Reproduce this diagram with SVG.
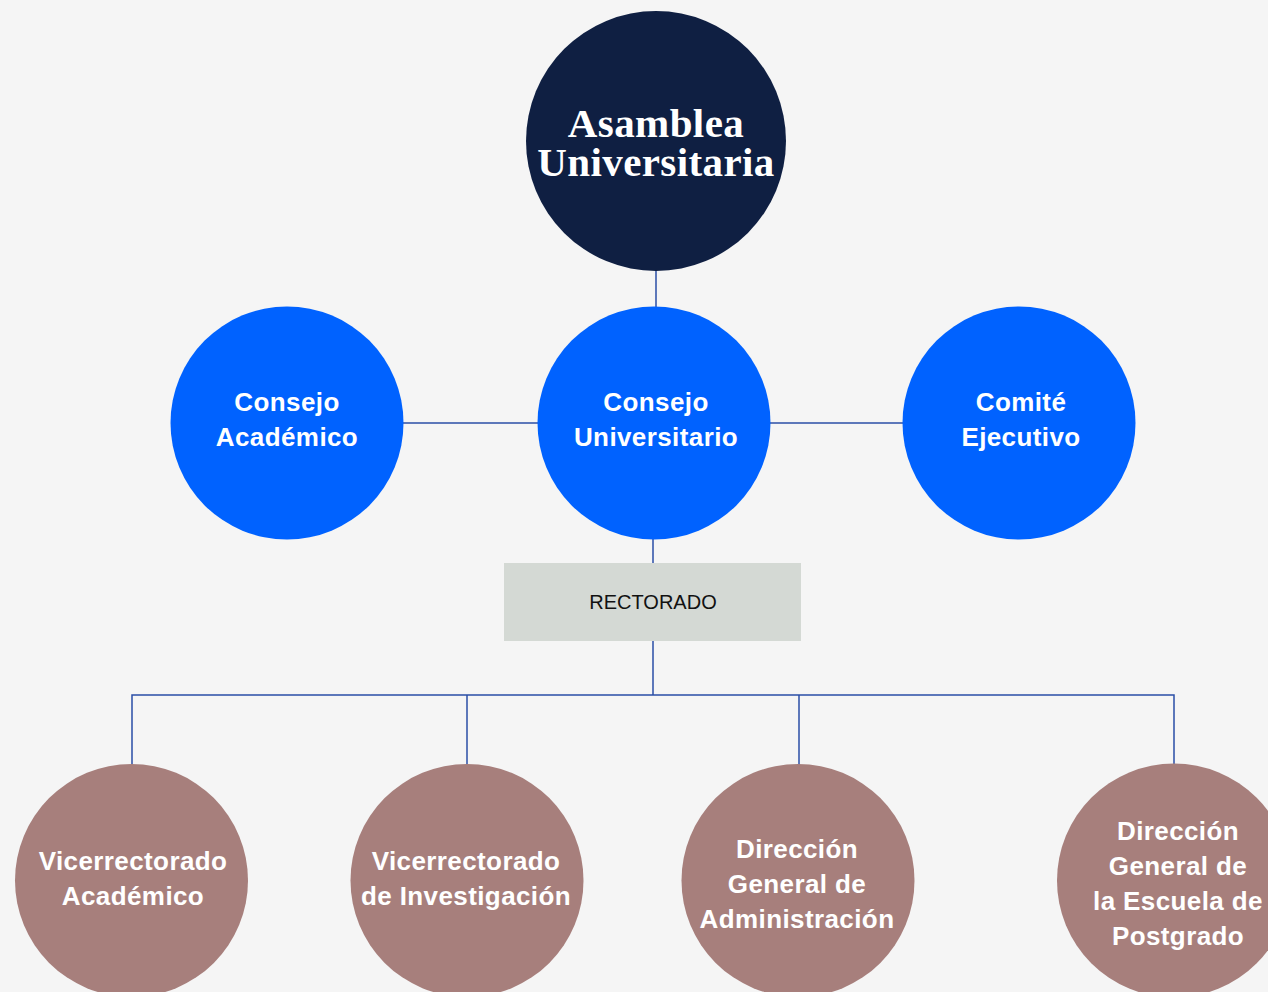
<svg xmlns="http://www.w3.org/2000/svg" width="1268" height="992" viewBox="0 0 1268 992">
<style>
.bg{fill:#f5f5f5}
.ln{stroke:#2a4ea6;stroke-width:1.5;fill:none}
.top{fill:#0f1f42}
.blue{fill:#0062ff}
.mauve{fill:#a77f7c}
.rect{fill:#d4d9d4}
.ser{font-family:"Liberation Serif",serif;font-weight:bold;font-size:41px;letter-spacing:0.4px;fill:#fff;text-anchor:middle}
.lbl{font-family:"Liberation Sans",Arial,sans-serif;font-weight:bold;font-size:26px;letter-spacing:0.4px;fill:#fff;text-anchor:middle}
.reg{font-family:"Liberation Sans",Arial,sans-serif;font-size:20px;fill:#111;text-anchor:middle}
</style>
<rect class="bg" x="0" y="0" width="1268" height="992"/>
<g id="connectors">
<line class="ln" x1="656" y1="268" x2="656" y2="310"/>
<line class="ln" x1="400" y1="423" x2="541" y2="423"/>
<line class="ln" x1="767" y1="423" x2="906" y2="423"/>
<line class="ln" x1="653" y1="536" x2="653" y2="563"/>
<line class="ln" x1="653" y1="641" x2="653" y2="695"/>
<polyline class="ln" points="132,767 132,695 1174,695 1174,767"/>
<line class="ln" x1="467" y1="695" x2="467" y2="767"/>
<line class="ln" x1="799" y1="695" x2="799" y2="767"/>
</g>
<g id="asamblea">
<circle class="top" cx="656" cy="141" r="130"/>
<text class="ser" x="656" y="137">Asamblea</text>
<text class="ser" x="656" y="176">Universitaria</text>
</g>
<g id="consejo-academico">
<circle class="blue" cx="287" cy="423" r="116.5"/>
<text class="lbl" x="287" y="411">Consejo</text>
<text class="lbl" x="287" y="446">Académico</text>
</g>
<g id="consejo-universitario">
<circle class="blue" cx="654" cy="423" r="116.5"/>
<text class="lbl" x="656" y="411">Consejo</text>
<text class="lbl" x="656" y="446">Universitario</text>
</g>
<g id="comite-ejecutivo">
<circle class="blue" cx="1019" cy="423" r="116.5"/>
<text class="lbl" x="1021" y="411">Comité</text>
<text class="lbl" x="1021" y="446">Ejecutivo</text>
</g>
<g id="rectorado">
<rect class="rect" x="504" y="563" width="297" height="78"/>
<text class="reg" x="653" y="609">RECTORADO</text>
</g>
<g id="vice-academico">
<circle class="mauve" cx="131.5" cy="880.5" r="116.5"/>
<text class="lbl" x="133" y="870">Vicerrectorado</text>
<text class="lbl" x="133" y="905">Académico</text>
</g>
<g id="vice-investigacion">
<circle class="mauve" cx="467" cy="880.5" r="116.5"/>
<text class="lbl" x="466" y="870">Vicerrectorado</text>
<text class="lbl" x="466" y="905">de Investigación</text>
</g>
<g id="dir-administracion">
<circle class="mauve" cx="798" cy="880.5" r="116.5"/>
<text class="lbl" x="797" y="858">Dirección</text>
<text class="lbl" x="797" y="893">General de</text>
<text class="lbl" x="797" y="928">Administración</text>
</g>
<g id="dir-postgrado">
<circle class="mauve" cx="1174" cy="880.5" r="117"/>
<text class="lbl" x="1178" y="840">Dirección</text>
<text class="lbl" x="1178" y="875">General de</text>
<text class="lbl" x="1178" y="910">la Escuela de</text>
<text class="lbl" x="1178" y="945">Postgrado</text>
</g>
</svg>
